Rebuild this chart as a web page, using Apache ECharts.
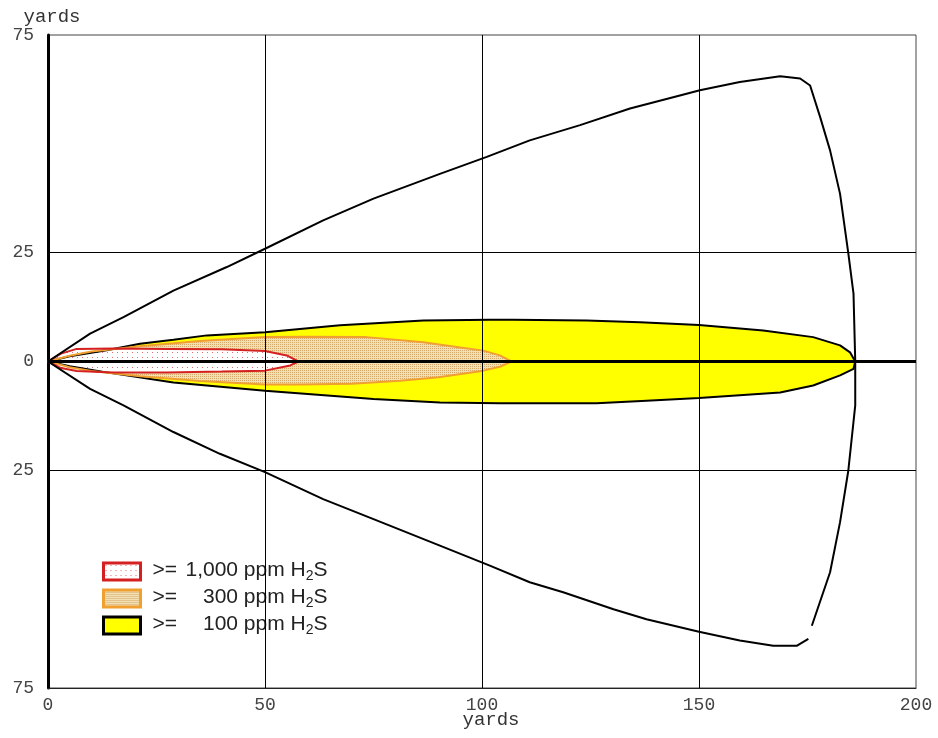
<!DOCTYPE html>
<html>
<head>
<meta charset="utf-8">
<script src="https://cdn.jsdelivr.net/npm/echarts@6/dist/echarts.min.js"></script>
<style>
html,body{margin:0;padding:0;background:#fff;}
#chart{width:938px;height:738px;}
</style>
</head>
<body>
<div id="chart"></div>
<script>
// ---- axis ticks ----
const xTicks = [0, 50, 100, 150, 200];
const yLabelledTicks = [75, 25, 0, -25, -75];
const hGridValues = [25, -25];
const vGridValues = [50, 100, 150];

// ---- legend labels ----
const legendNames = ['c1000', 'c300', 'c100'];
const legendNumbers = ['1,000', '300', '100'];

// ---- 100 ppm zone (yellow) ----
const yellowUpperX = [0, 5, 13.5, 21.2, 28.9, 36.6, 50, 67.3, 86.5, 101.8, 107.2, 124.1, 136.4, 150, 164.8, 176.3, 182.5, 184.8, 186];
const yellowUpperY = [0, 1.2, 2.6, 4.1, 5.0, 6.0, 6.7, 8.3, 9.4, 9.6, 9.6, 9.4, 9.0, 8.4, 7.1, 5.6, 3.7, 2.1, 0];
const yellowLowerX = [0, 5, 13.5, 28.9, 50, 75, 90.3, 104.1, 126.4, 137.9, 150, 168.7, 176.3, 182.5, 185.6, 186];
const yellowLowerY = [0, -1.1, -2.5, -4.8, -6.7, -8.6, -9.4, -9.6, -9.6, -9.0, -8.4, -7.1, -5.5, -3.2, -1.7, 0];

// ---- 300 ppm zone (orange) ----
const orangeUpperX = [0, 5, 10, 21.2, 35, 50, 60, 73.4, 86.5, 95, 100.3, 104.1, 106.8];
const orangeUpperY = [0, 1.3, 2.3, 3.5, 4.7, 5.6, 5.7, 5.6, 4.4, 3.2, 2.5, 1.4, 0];
const orangeLowerX = [0, 5, 10, 21.2, 35, 50, 58, 70, 81.1, 90, 100.3, 104.1, 106.8];
const orangeLowerY = [0, -1.3, -2.2, -3.4, -4.5, -5.3, -5.3, -5.1, -4.4, -3.6, -2.1, -1.2, 0];

// ---- 1,000 ppm zone (red) ----
const redUpperX = [0, 3, 6.6, 15, 27.4, 40, 50, 55, 57.7];
const redUpperY = [0, 1.8, 2.9, 3.0, 2.9, 2.8, 2.4, 1.4, 0];
const redLowerX = [0, 3, 6.6, 15, 27.4, 40, 50, 55.8, 57.7];
const redLowerY = [0, -1.5, -2.2, -2.5, -2.5, -2.3, -2.1, -0.9, 0];

// ---- outer envelope (black line) ----
const envX = [0, 9.7, 17.4, 28.9, 41.2, 50, 63.4, 75, 90.3, 101.1, 111, 122.6, 134.1, 145.6, 150.2, 159.4, 168.7, 173.3, 175.6, 177.9, 180.2, 182.5, 184.4, 185.6, 186,
              186, 184.4, 182.5, 180.2, 176, null, 175.2, 172.5, 167.1, 159.4, 150, 137.9, 130.3, 118.7, 111, 101.8, 90.3, 75, 63.4, 50, 39.6, 28.9, 17.4, 9.7, 0];
const envY = [0, 6.4, 10.2, 16.3, 21.7, 25.9, 32.4, 37.4, 43.1, 47.0, 50.8, 54.3, 58.1, 61.1, 62.3, 64.2, 65.5, 65.0, 63.4, 56.2, 48.5, 38.5, 24.9, 15.6, 0,
              -10.1, -25.1, -36.9, -48.4, -60.7, null, -63.7, -65.3, -65.3, -64.1, -62.1, -59.2, -56.9, -53.0, -50.7, -46.9, -42.3, -36.2, -31.6, -25.4, -21.2, -16.2, -10.1, -6.3, 0];

// ---- centre line ----
const axisLineX = [0, 200];
const axisLineY = [0, 0];

function pairs(xs, ys) {
  return xs.map((x, i) => (x === null ? [null, null] : [x, ys[i]]));
}

function dotPattern(bg, dot, w, h, pts) {
  const c = document.createElement('canvas');
  c.width = w; c.height = h;
  const g = c.getContext('2d');
  g.fillStyle = bg; g.fillRect(0, 0, w, h);
  g.fillStyle = dot;
  pts.forEach(p => g.fillRect(p[0], p[1], 1, 1));
  return c;
}

const redFill = { image: dotPattern('#ffffff', '#e07070', 5, 5, [[2, 2]]), repeat: 'repeat' };
const orangeFill = { image: dotPattern('#f2dfb2', '#d4a868', 2, 2, [[0, 0]]), repeat: 'repeat' };
const yellowFill = '#ffff00';

const RED = '#d42020', ORANGE = '#f0a030', BLACK = '#000000';

function zone(name, xs, ys, fill, stroke) {
  return {
    name: name, type: 'line', data: pairs(xs, ys), symbol: 'none', smooth: false,
    lineStyle: { color: stroke, width: 2 },
    itemStyle: { color: fill },
    areaStyle: { color: fill, opacity: 1 },
    silent: true
  };
}

// legend number alignment (right-aligned numbers)
const LEG_FONT = 'Liberation Sans';
const LEG_SIZE = 21;
const mctx = document.createElement('canvas').getContext('2d');
mctx.font = LEG_SIZE + 'px "' + LEG_FONT + '"';
const NUM_BOX = 61;
const rich = {
  op: { fontFamily: LEG_FONT, fontSize: LEG_SIZE, color: '#222', lineHeight: 23, verticalAlign: 'top', padding: [0, 0, 0, 7] },
  t: { fontFamily: LEG_FONT, fontSize: LEG_SIZE, color: '#222', lineHeight: 23, verticalAlign: 'top' },
  sub: { fontFamily: LEG_FONT, fontSize: 14, color: '#222', lineHeight: 13, verticalAlign: 'bottom', padding: [15, 0, 0, 0] }
};
legendNumbers.forEach((n, i) => {
  const w = Math.max(1, NUM_BOX - mctx.measureText(n).width);
  rich['sp' + i] = { fontFamily: LEG_FONT, fontSize: LEG_SIZE, lineHeight: 23, verticalAlign: 'top', width: w };
});

const chart = echarts.init(document.getElementById('chart'), null, { renderer: 'canvas' });

const labelFont = 'Liberation Mono';
const option = {
  animation: false,
  backgroundColor: '#ffffff',
  grid: { left: 48, right: 22, top: 35, bottom: 50, outerBoundsMode: 'none', containLabel: false,
          show: true, borderColor: '#444', borderWidth: 1, backgroundColor: 'transparent' },
  xAxis: {
    type: 'value', min: 0, max: 200, interval: 50,
    name: 'yards', nameLocation: 'middle', nameGap: 22, nameMoveOverlap: false,
    nameTextStyle: { fontFamily: labelFont, fontSize: 19, color: '#333', padding: [0, 0, 0, 18] },
    axisLine: { show: true, onZero: false, lineStyle: { color: '#222', width: 1 } },
    axisTick: { show: false },
    axisLabel: { margin: 8, fontFamily: labelFont, fontSize: 18, color: '#444', showMinLabel: true, showMaxLabel: true },
    splitLine: { show: false }
  },
  yAxis: {
    type: 'value', min: -75, max: 75, interval: 25,
    name: 'yards', nameLocation: 'end', nameGap: 9, nameMoveOverlap: false,
    nameTextStyle: { fontFamily: labelFont, fontSize: 19, color: '#333', align: 'center', padding: [0, 0, 0, 8] },
    axisLine: { show: true, onZero: false, lineStyle: { color: '#000', width: 3 } },
    axisTick: { show: false },
    axisLabel: {
      margin: 14, fontFamily: labelFont, fontSize: 18, color: '#444', showMinLabel: true, showMaxLabel: true,
      formatter: v => (yLabelledTicks.indexOf(v) >= 0 ? String(Math.abs(v)) : '')
    },
    splitLine: { show: false }
  },
  legend: {
    selectedMode: false,
    orient: 'vertical',
    left: 90, top: 543,
    padding: [11, 12, 12, 12],
    backgroundColor: '#ffffff',
    itemGap: -2,
    itemWidth: 37, itemHeight: 17,
    data: [
      { name: legendNames[0], icon: 'rect', itemStyle: { color: redFill, borderColor: RED, borderWidth: 3 } },
      { name: legendNames[1], icon: 'rect', itemStyle: { color: orangeFill, borderColor: ORANGE, borderWidth: 3 } },
      { name: legendNames[2], icon: 'rect', itemStyle: { color: yellowFill, borderColor: BLACK, borderWidth: 3 } }
    ],
    formatter: function (name) {
      const i = legendNames.indexOf(name);
      return '{op|>=}{sp' + i + '| }{t|' + legendNumbers[i] + ' ppm H}{sub|2}{t|S}';
    },
    textStyle: { fontFamily: LEG_FONT, fontSize: LEG_SIZE, color: '#222', rich: rich }
  },
  series: [
    zone(legendNames[2], yellowUpperX, yellowUpperY, yellowFill, BLACK),
    zone(legendNames[2], yellowLowerX, yellowLowerY, yellowFill, BLACK),
    zone(legendNames[1], orangeUpperX, orangeUpperY, orangeFill, ORANGE),
    zone(legendNames[1], orangeLowerX, orangeLowerY, orangeFill, ORANGE),
    zone(legendNames[0], redUpperX, redUpperY, redFill, RED),
    zone(legendNames[0], redLowerX, redLowerY, redFill, RED),
    {
      name: 'envelope', type: 'line', data: pairs(envX, envY), symbol: 'none', connectNulls: false,
      lineStyle: { color: '#000', width: 2 }, silent: true
    },
    {
      name: 'centre', type: 'line', data: pairs(axisLineX, axisLineY), symbol: 'none',
      lineStyle: { color: '#000', width: 3 }, silent: true,
      markLine: {
        silent: true, symbol: ['none', 'none'], label: { show: false },
        lineStyle: { color: '#000', width: 1, type: 'solid' },
        emphasis: { disabled: true },
        data: vGridValues.map(v => ({ xAxis: v })).concat(hGridValues.map(v => ({ yAxis: v })))
      }
    }
  ]
};
chart.setOption(option);
</script>
</body>
</html>
